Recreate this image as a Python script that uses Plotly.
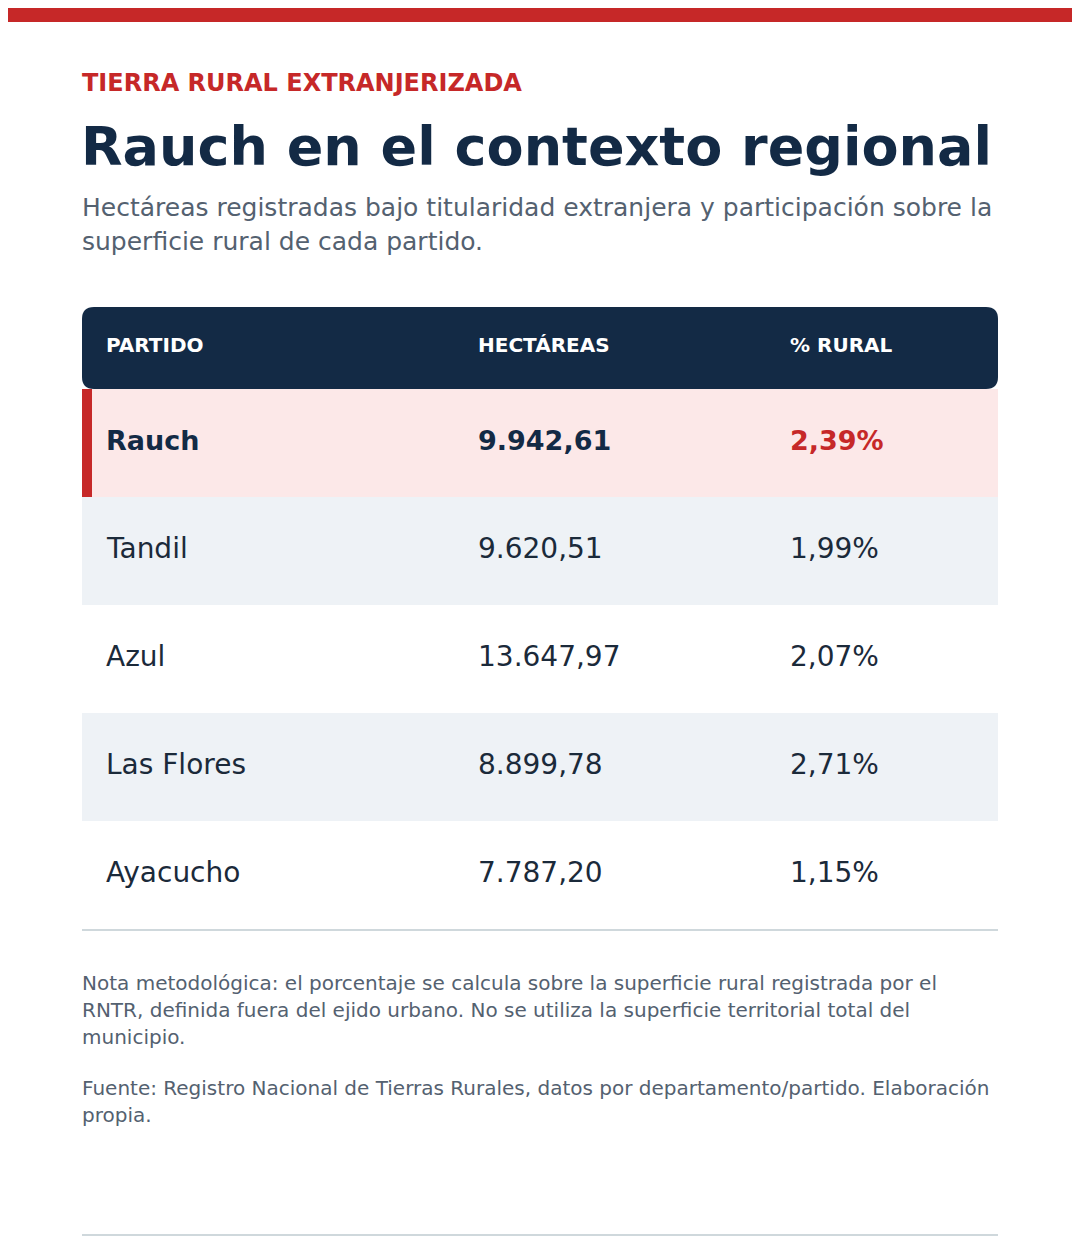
import plotly.graph_objects as go

# Datos
partidos = ["Rauch", "Tandil", "Azul", "Las Flores", "Ayacucho"]
hectareas = ["9.942,61", "9.620,51", "13.647,97", "8.899,78", "7.787,20"]
pct_rural = ["2,39%", "1,99%", "2,07%", "2,71%", "1,15%"]
columnas = ["PARTIDO", "HECTÁREAS", "% RURAL"]
destacado = "Rauch"

rojo = "#C62828"
azul = "#132A45"
gris = "#546170"
fila_alt = "#EEF2F6"
fila_dest = "#FCE8E8"
linea = "#CFD8DC"
fuente = "DejaVu Sans"

W, H = 1080, 1259
off = 8  # margen del body de la página
col_x = [106, 478, 790]
x0, x1 = 82, 998
head_top, head_bot = 307, 389
row_h = 108

fig = go.Figure()
shapes = []
ann = []

def txt(x, y, s, size, color, bold=False):
    ann.append(dict(x=x, y=y, text=f"<b>{s}</b>" if bold else s, showarrow=False,
                    xanchor="left", yanchor="middle", align="left",
                    font=dict(size=size, color=color, family=fuente)))

# barra superior
shapes.append(dict(type="rect", x0=0, x1=W + 20, y0=0, y1=22, fillcolor=rojo, line_width=0))

txt(80, 83, "TIERRA RURAL EXTRANJERIZADA", 24, rojo, True)
txt(79, 146, "Rauch en el contexto regional", 54, azul, True)
txt(80, 207, "Hectáreas registradas bajo titularidad extranjera y participación sobre la", 25, gris)
txt(80, 241, "superficie rural de cada partido.", 25, gris)

# encabezado redondeado
r = 12
path = (f"M {x0+r},{head_top} L {x1-r},{head_top} Q {x1},{head_top} {x1},{head_top+r} "
        f"L {x1},{head_bot-r} Q {x1},{head_bot} {x1-r},{head_bot} L {x0+r},{head_bot} "
        f"Q {x0},{head_bot} {x0},{head_bot-r} L {x0},{head_top+r} Q {x0},{head_top} {x0+r},{head_top} Z")
shapes.append(dict(type="path", path=path, fillcolor=azul, line_width=0))
for cx, c in zip(col_x, columnas):
    txt(cx - 2, (head_top + head_bot) / 2 - 3, c, 20, "white", True)

# filas
for i, (p, h, pc) in enumerate(zip(partidos, hectareas, pct_rural)):
    y0 = head_bot + i * row_h
    ym = y0 + row_h / 2 - 3
    if p == destacado:
        shapes.append(dict(type="rect", x0=x0, x1=x1, y0=y0, y1=y0 + row_h, fillcolor=fila_dest, line_width=0))
        shapes.append(dict(type="rect", x0=x0, x1=x0 + 10, y0=y0, y1=y0 + row_h, fillcolor=rojo, line_width=0))
        txt(col_x[0] - 2, ym, p, 27, azul, True)
        txt(col_x[1] - 2, ym, h, 27, azul, True)
        txt(col_x[2] - 2, ym, pc, 27, rojo, True)
    else:
        if i % 2 == 1:
            shapes.append(dict(type="rect", x0=x0, x1=x1, y0=y0, y1=y0 + row_h, fillcolor=fila_alt, line_width=0))
        txt(col_x[0] - 2, ym, p, 28, "#1B2A3A")
        txt(col_x[1] - 2, ym, h, 28, "#1B2A3A")
        txt(col_x[2] - 2, ym, pc, 28, "#1B2A3A")

fin = head_bot + len(partidos) * row_h + 1
shapes.append(dict(type="line", x0=x0, x1=x1, y0=fin, y1=fin, line=dict(color=linea, width=2)))

notas = [(983, "Nota metodológica: el porcentaje se calcula sobre la superficie rural registrada por el"),
         (1010, "RNTR, definida fuera del ejido urbano. No se utiliza la superficie territorial total del"),
         (1037, "municipio."),
         (1088, "Fuente: Registro Nacional de Tierras Rurales, datos por departamento/partido. Elaboración"),
         (1115, "propia.")]
for y, s in notas:
    txt(80, y, s, 20, gris)

shapes.append(dict(type="line", x0=x0, x1=x1, y0=1235, y1=1235, line=dict(color=linea, width=2)))

fig.update_layout(
    width=W, height=H, margin=dict(l=0, r=0, t=0, b=0),
    paper_bgcolor="white", plot_bgcolor="white",
    xaxis=dict(range=[off, W + off], visible=False, fixedrange=True),
    yaxis=dict(range=[H + off, off], visible=False, fixedrange=True),
    shapes=shapes, annotations=ann, showlegend=False,
)

fig.write_html("out.html")
